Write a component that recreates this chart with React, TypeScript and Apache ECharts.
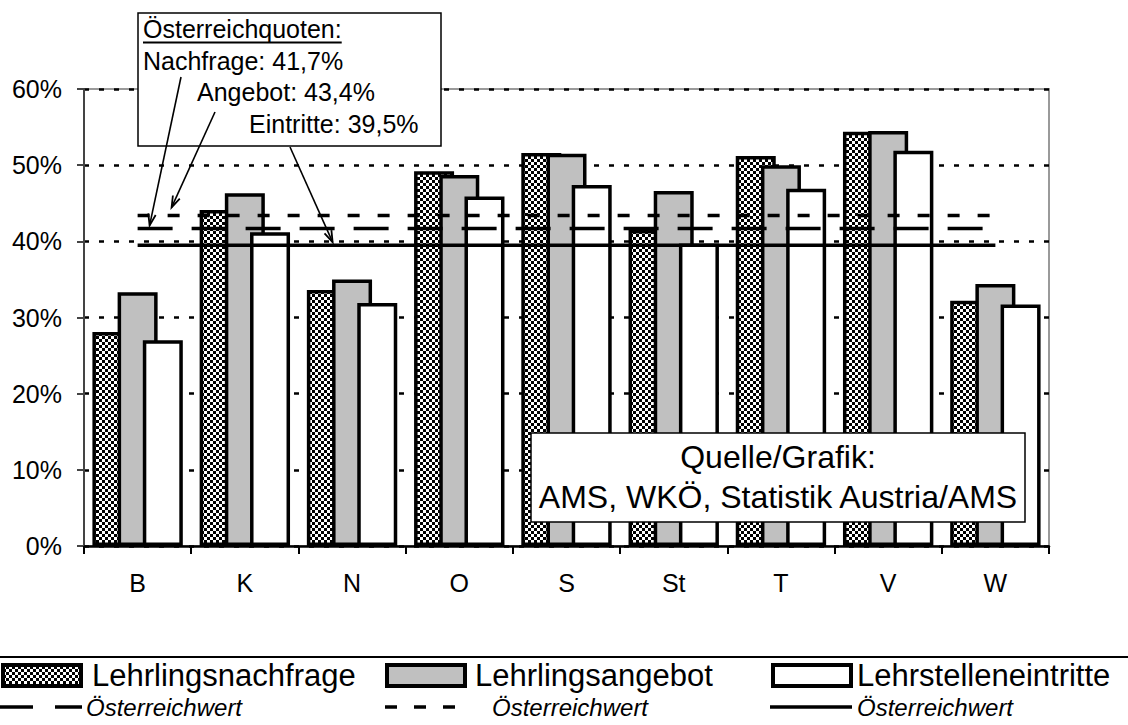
import { useEffect, useRef } from 'react';
import * as echarts from 'echarts';

// Bundesländer
const categories = ['B', 'K', 'N', 'O', 'S', 'St', 'T', 'V', 'W'];

// Quoten in Prozent je Bundesland
const nachfrage = [28.1, 44.1, 33.6, 49.2, 51.6, 41.5, 51.2, 54.4, 32.2];
const angebot = [33.3, 46.3, 35.0, 48.7, 51.5, 46.6, 50.0, 54.5, 34.4];
const eintritte = [27.0, 41.2, 31.9, 45.9, 47.4, 39.7, 46.9, 51.9, 31.7];

// Österreichwerte
const quoteNachfrage = 41.7;
const quoteAngebot = 43.4;
const quoteEintritte = 39.5;

const legendLabels = ['Lehrlingsnachfrage', 'Lehrlingsangebot', 'Lehrstelleneintritte'];
const refLabel = 'Österreichwert';
const sourceLines = ['Quelle/Grafik:', 'AMS, WKÖ, Statistik Austria/AMS'];

const FONT = '"Liberation Sans", Arial, Helvetica, sans-serif';
const fmt = (v: number) => v.toFixed(1).replace('.', ',');

function checkerPattern() {
  const c = document.createElement('canvas');
  c.width = 6;
  c.height = 6;
  const ctx = c.getContext('2d')!;
  ctx.fillStyle = '#fff';
  ctx.fillRect(0, 0, 6, 6);
  ctx.fillStyle = '#000';
  ctx.fillRect(0, 0, 3, 3);
  ctx.fillRect(3, 3, 3, 3);
  return { image: c, repeat: 'repeat', imageWidth: 6, imageHeight: 6 } as any;
}

function arrow(x1: number, y1: number, x2: number, y2: number) {
  const a = Math.atan2(y2 - y1, x2 - x1);
  const L = 12;
  const s = 0.32;
  return [
    {
      type: 'line',
      z: 120,
      shape: { x1, y1, x2, y2 },
      style: { stroke: '#000', lineWidth: 1.6 },
    },
    {
      type: 'polyline',
      z: 120,
      shape: {
        points: [
          [x2 - L * Math.cos(a - s), y2 - L * Math.sin(a - s)],
          [x2, y2],
          [x2 - L * Math.cos(a + s), y2 - L * Math.sin(a + s)],
        ],
      },
      style: { stroke: '#000', lineWidth: 1.8, fill: null },
    },
  ];
}

function txt(text: string, x: number, y: number, size: number, extra: any = {}) {
  return {
    type: 'text',
    z: 120,
    x,
    y,
    style: {
      text,
      fontSize: size,
      fontFamily: FONT,
      fill: '#000',
      align: 'left',
      verticalAlign: 'middle',
      ...extra,
    },
  };
}

export default function App() {
  const ref = useRef<HTMLDivElement>(null);

  useEffect(() => {
    document.body.style.margin = '0';
    const chart = echarts.init(ref.current!, null, { renderer: 'svg' });
    const checker = checkerPattern();

    const barBase = {
      type: 'bar',
      barWidth: 40,
      barGap: '-37%',
      silent: true,
    };
    const refLine = (v: number, dash: any) => ({
      type: 'line',
      data: categories.map(() => v),
      symbol: 'none',
      silent: true,
      z: 5,
      lineStyle: { color: '#000', width: 3.5, type: dash, cap: 'butt' },
    });

    chart.setOption({
      animation: false,
      backgroundColor: '#fff',
      textStyle: { fontFamily: FONT },
      grid: {
        left: 84,
        right: 79,
        top: 89,
        bottom: 179,
        show: true,
        borderColor: '#9a9a9a',
        borderWidth: 2,
        outerBoundsMode: 'none',
      },
      xAxis: {
        type: 'category',
        data: categories,
        axisLine: { show: true, lineStyle: { color: '#000', width: 2.5 } },
        axisTick: { show: true, length: 8, lineStyle: { color: '#000', width: 2 } },
        axisLabel: { fontSize: 25, color: '#000', fontFamily: FONT, margin: 24 },
        splitLine: { show: false },
      },
      yAxis: {
        type: 'value',
        min: 0,
        max: 60,
        interval: 10,
        axisLabel: {
          formatter: '{value}%',
          fontSize: 25,
          color: '#000',
          fontFamily: FONT,
          margin: 22,
        },
        axisLine: { show: true, lineStyle: { color: '#444', width: 2 } },
        axisTick: { show: true, length: 7, lineStyle: { color: '#444', width: 2 } },
        splitLine: { show: true, lineStyle: { color: '#000', width: 2.5, type: [5, 10] } },
      },
      series: [
        {
          ...barBase,
          name: legendLabels[0],
          data: nachfrage,
          itemStyle: { color: checker, borderColor: '#000', borderWidth: 3.5 },
        },
        {
          ...barBase,
          name: legendLabels[1],
          data: angebot,
          itemStyle: { color: '#c0c0c0', borderColor: '#000', borderWidth: 3.5 },
        },
        {
          ...barBase,
          name: legendLabels[2],
          data: eintritte,
          itemStyle: { color: '#fff', borderColor: '#000', borderWidth: 3.5 },
        },
        refLine(quoteNachfrage, [35, 19]),
        refLine(quoteAngebot, [12, 18]),
        refLine(quoteEintritte, 'solid'),
      ],
    });

    // anchor points of the Österreich lines at the first category
    const pN = chart.convertToPixel({ xAxisIndex: 0, yAxisIndex: 0 }, [0, quoteNachfrage]) as number[];
    const pA = chart.convertToPixel({ xAxisIndex: 0, yAxisIndex: 0 }, [0, quoteAngebot]) as number[];
    const pE = chart.convertToPixel({ xAxisIndex: 0, yAxisIndex: 0 }, [0, quoteEintritte]) as number[];

    const boxFont = 25;
    const titleText = 'Österreichquoten:';
    const titleWidth = (echarts.format as any).getTextRect
      ? (echarts.format as any).getTextRect(titleText, `${boxFont}px ${FONT}`)?.width
      : undefined;
    const underlineW = titleWidth || 208;

    const legendY1 = 675;
    const legendY2 = 707;
    const swatch = (x: number, fill: any) => ({
      type: 'rect',
      z: 120,
      shape: { x, y: 665, width: 78, height: 21 },
      style: { fill, stroke: '#000', lineWidth: 4 },
    });
    const lseg = (x1: number, x2: number) => ({
      type: 'line',
      z: 120,
      shape: { x1, y1: legendY2, x2, y2: legendY2 },
      style: { stroke: '#000', lineWidth: 3.5 },
    });

    const graphic: any[] = [
      // Österreichquoten box
      {
        type: 'rect',
        z: 110,
        shape: { x: 138, y: 13, width: 303, height: 133 },
        style: { fill: '#fff', stroke: '#000', lineWidth: 1.5 },
      },
      txt(titleText, 143, 29, boxFont),
      {
        type: 'line',
        z: 120,
        shape: { x1: 143, y1: 42.5, x2: 143 + underlineW, y2: 42.5 },
        style: { stroke: '#000', lineWidth: 1.8 },
      },
      txt(`Nachfrage: ${fmt(quoteNachfrage)}%`, 143, 61, boxFont),
      txt(`Angebot: ${fmt(quoteAngebot)}%`, 197, 92, boxFont),
      txt(`Eintritte: ${fmt(quoteEintritte)}%`, 249, 124, boxFont),
      ...arrow(181, 77, pN[0] + 12, pN[1] - 3),
      ...arrow(215, 112, pA[0] + 34, pA[1] - 8),
      ...arrow(290, 147, pE[0] + 195, pE[1] - 3),

      // Quelle box
      {
        type: 'rect',
        z: 110,
        shape: { x: 531, y: 433, width: 494, height: 89 },
        style: { fill: '#fff', stroke: '#000', lineWidth: 1.5 },
      },
      txt(sourceLines[0], 778, 457, 32, { align: 'center' }),
      txt(sourceLines[1], 778, 497, 32, { align: 'center' }),

      // separator above legend
      {
        type: 'line',
        z: 120,
        shape: { x1: 0, y1: 657, x2: 1128, y2: 657 },
        style: { stroke: '#000', lineWidth: 2 },
      },

      // legend row 1
      swatch(3, checker),
      txt(legendLabels[0], 92, legendY1, 31),
      swatch(387, '#c0c0c0'),
      txt(legendLabels[1], 475, legendY1, 31),
      swatch(773, '#fff'),
      txt(legendLabels[2], 857, legendY1, 31),

      // legend row 2
      lseg(0, 33),
      lseg(55, 82),
      txt(refLabel, 86, legendY2, 24, { fontStyle: 'italic' }),
      lseg(385, 397),
      lseg(414, 426),
      lseg(443, 455),
      txt(refLabel, 492, legendY2, 24, { fontStyle: 'italic' }),
      lseg(770, 852),
      txt(refLabel, 857, legendY2, 24, { fontStyle: 'italic' }),
    ];

    chart.setOption({ graphic });

    return () => chart.dispose();
  }, []);

  return <div ref={ref} style={{ width: 1128, height: 725 }} />;
}
